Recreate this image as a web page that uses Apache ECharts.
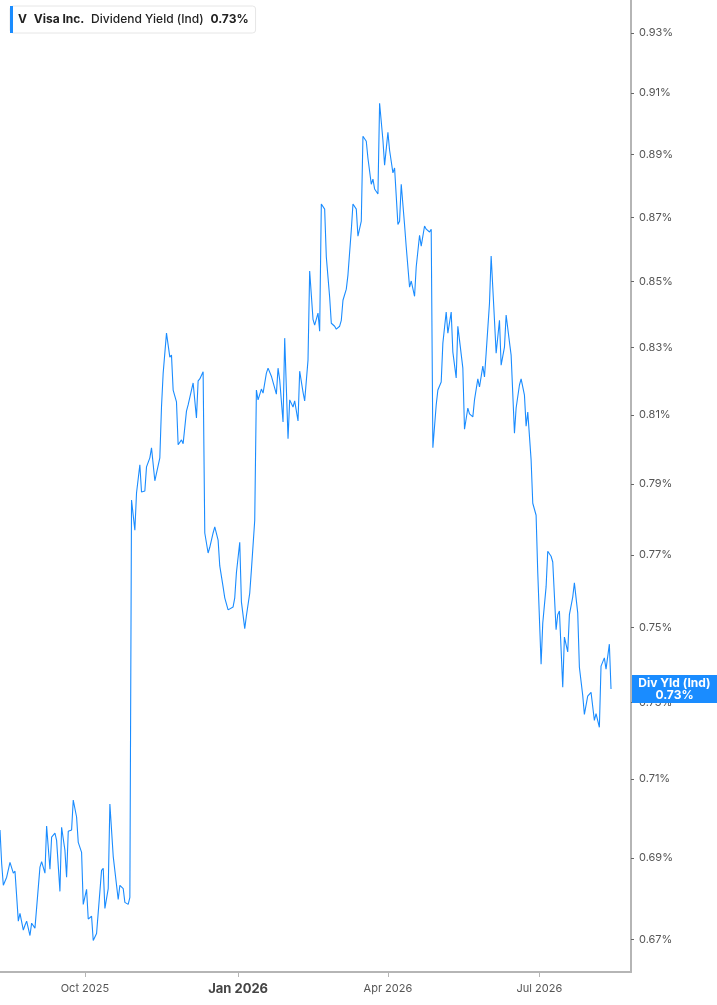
<!DOCTYPE html>
<html>
<head>
<meta charset="utf-8">
<style>
  html, body { margin: 0; padding: 0; background: #fff; }
  #chart { width: 717px; height: 1005px; }
</style>
<script src="https://cdn.jsdelivr.net/npm/echarts@6/dist/echarts.min.js"></script>
</head>
<body>
<div id="chart"></div>
<script>
// Visa Inc. (V) - indicated dividend yield, %
var dates = [
  '2025-08-11','2025-08-12','2025-08-13','2025-08-15','2025-08-17','2025-08-18','2025-08-19','2025-08-20',
  '2025-08-22','2025-08-23','2025-08-25','2025-08-26','2025-08-27','2025-08-29','2025-08-30','2025-09-01',
  '2025-09-02','2025-09-04','2025-09-05','2025-09-07','2025-09-08','2025-09-10','2025-09-11','2025-09-13',
  '2025-09-14','2025-09-16','2025-09-17','2025-09-19','2025-09-20','2025-09-21','2025-09-23','2025-09-24',
  '2025-09-26','2025-09-27','2025-09-29','2025-09-30','2025-10-02','2025-10-03','2025-10-05','2025-10-06',
  '2025-10-08','2025-10-11','2025-10-12','2025-10-13','2025-10-15','2025-10-16','2025-10-18','2025-10-21',
  '2025-10-22','2025-10-24','2025-10-25','2025-10-27','2025-10-28','2025-10-29','2025-10-31','2025-11-01',
  '2025-11-03','2025-11-04','2025-11-06','2025-11-07','2025-11-09','2025-11-10','2025-11-12','2025-11-13',
  '2025-11-15','2025-11-16','2025-11-17','2025-11-19','2025-11-21','2025-11-22','2025-11-23','2025-11-25',
  '2025-11-26','2025-11-28','2025-11-29','2025-12-01','2025-12-02','2025-12-03','2025-12-05','2025-12-07',
  '2025-12-08','2025-12-09','2025-12-11','2025-12-12','2025-12-14','2025-12-15','2025-12-17','2025-12-18',
  '2025-12-20','2025-12-21','2025-12-23','2025-12-24','2025-12-26','2025-12-27','2025-12-29','2025-12-30',
  '2025-12-31','2026-01-02','2026-01-03','2026-01-05','2026-01-06','2026-01-08','2026-01-09','2026-01-11',
  '2026-01-12','2026-01-13','2026-01-15','2026-01-16','2026-01-18','2026-01-19','2026-01-21','2026-01-22',
  '2026-01-24','2026-01-25','2026-01-26','2026-01-28','2026-01-29','2026-01-31','2026-02-01','2026-02-03',
  '2026-02-04','2026-02-06','2026-02-07','2026-02-09','2026-02-10','2026-02-12','2026-02-13','2026-02-15',
  '2026-02-16','2026-02-18','2026-02-19','2026-02-20','2026-02-22','2026-02-23','2026-02-25','2026-02-26',
  '2026-02-28','2026-03-01','2026-03-03','2026-03-04','2026-03-05','2026-03-07','2026-03-08','2026-03-10',
  '2026-03-11','2026-03-13','2026-03-14','2026-03-16','2026-03-17','2026-03-19','2026-03-20','2026-03-22',
  '2026-03-23','2026-03-24','2026-03-26','2026-03-27','2026-03-29','2026-03-30','2026-04-01','2026-04-02',
  '2026-04-04','2026-04-05','2026-04-07','2026-04-08','2026-04-09','2026-04-11','2026-04-12','2026-04-14',
  '2026-04-15','2026-04-17','2026-04-18','2026-04-20','2026-04-21','2026-04-23','2026-04-24','2026-04-26',
  '2026-04-27','2026-04-28','2026-04-30','2026-05-01','2026-05-03','2026-05-04','2026-05-06','2026-05-07',
  '2026-05-09','2026-05-10','2026-05-12','2026-05-13','2026-05-14','2026-05-16','2026-05-17','2026-05-19',
  '2026-05-20','2026-05-22','2026-05-23','2026-05-25','2026-05-26','2026-05-28','2026-05-29','2026-05-30',
  '2026-06-01','2026-06-02','2026-06-04','2026-06-05','2026-06-07','2026-06-08','2026-06-10','2026-06-11',
  '2026-06-13','2026-06-14','2026-06-16','2026-06-17','2026-06-19','2026-06-20','2026-06-22','2026-06-23',
  '2026-06-24','2026-06-26','2026-06-27','2026-06-29','2026-06-30','2026-07-02','2026-07-03','2026-07-05',
  '2026-07-06','2026-07-08','2026-07-09','2026-07-11','2026-07-12','2026-07-13','2026-07-15','2026-07-16',
  '2026-07-18','2026-07-19','2026-07-21','2026-07-22','2026-07-24','2026-07-25','2026-07-27','2026-07-28',
  '2026-07-30','2026-07-31','2026-08-01','2026-08-03','2026-08-04','2026-08-06','2026-08-07','2026-08-09',
  '2026-08-10','2026-08-12','2026-08-13'
];

var yields = [
  0.6970, 0.6886, 0.6832, 0.6852, 0.6889, 0.6891, 0.6862, 0.6867,
  0.6744, 0.6763, 0.6722, 0.6734, 0.6744, 0.6709, 0.6739, 0.6727,
  0.6724, 0.6877, 0.6891, 0.6862, 0.6980, 0.6872, 0.6952, 0.6962,
  0.6944, 0.6817, 0.6977, 0.6919, 0.6852, 0.6967, 0.6970, 0.7046,
  0.7003, 0.6939, 0.6914, 0.6785, 0.6822, 0.6749, 0.6756, 0.6697,
  0.6714, 0.6869, 0.6874, 0.6775, 0.6824, 0.7036, 0.6904, 0.6797,
  0.6832, 0.6824, 0.6790, 0.6785, 0.6802, 0.7854, 0.7769, 0.7874,
  0.7955, 0.7877, 0.7880, 0.7949, 0.7975, 0.8004, 0.7909, 0.7909,
  0.7975, 0.8123, 0.8223, 0.8343, 0.8271, 0.8277, 0.8173, 0.8138,
  0.8013, 0.8027, 0.8016, 0.8111, 0.8129, 0.8132, 0.8194, 0.8091,
  0.8200, 0.8206, 0.8227, 0.7761, 0.7705, 0.7721, 0.7761, 0.7778,
  0.7741, 0.7669, 0.7611, 0.7581, 0.7548, 0.7548, 0.7556, 0.7581,
  0.7650, 0.7735, 0.7570, 0.7497, 0.7532, 0.7594, 0.7658, 0.7797,
  0.8173, 0.8144, 0.8176, 0.8164, 0.8223, 0.8238, 0.8214, 0.8214,
  0.8161, 0.8238, 0.8203, 0.8079, 0.8328, 0.8030, 0.8144, 0.8123,
  0.8141, 0.8082, 0.8229, 0.8167, 0.8141, 0.8262, 0.8533, 0.8385,
  0.8367, 0.8404, 0.8349, 0.8742, 0.8726, 0.8576, 0.8452, 0.8373,
  0.8364, 0.8355, 0.8364, 0.8382, 0.8443, 0.8477, 0.8521, 0.8660,
  0.8742, 0.8726, 0.8641, 0.8688, 0.8959, 0.8943, 0.8888, 0.8805,
  0.8821, 0.8790, 0.8774, 0.9067, 0.8946, 0.8866, 0.8972, 0.8914,
  0.8841, 0.8857, 0.8678, 0.8688, 0.8805, 0.8676, 0.8607, 0.8483,
  0.8502, 0.8455, 0.8546, 0.8644, 0.8610, 0.8673, 0.8663, 0.8654,
  0.8663, 0.8004, 0.8129, 0.8173, 0.8197, 0.8313, 0.8407, 0.8343,
  0.8407, 0.8286, 0.8209, 0.8364, 0.8322, 0.8238, 0.8058, 0.8120,
  0.8103, 0.8094, 0.8144, 0.8206, 0.8182, 0.8244, 0.8212, 0.8283,
  0.8434, 0.8579, 0.8382, 0.8283, 0.8382, 0.8247, 0.8301, 0.8398,
  0.8316, 0.8277, 0.8046, 0.8120, 0.8188, 0.8206, 0.8158, 0.8067,
  0.8108, 0.7969, 0.7845, 0.7811, 0.7650, 0.7401, 0.7512, 0.7611,
  0.7710, 0.7696, 0.7680, 0.7494, 0.7535, 0.7545, 0.7340, 0.7474,
  0.7434, 0.7535, 0.7583, 0.7622, 0.7540, 0.7393, 0.7318, 0.7268,
  0.7316, 0.7321, 0.7326, 0.7252, 0.7270, 0.7234, 0.7396, 0.7418,
  0.7388, 0.7455, 0.7335
];

var yTicks = [0.67, 0.69, 0.71, 0.73, 0.75, 0.77, 0.79, 0.81, 0.83, 0.85, 0.87, 0.89, 0.91, 0.93];
var monthTicks = ['2025-10-01', '2026-01-01', '2026-04-01', '2026-07-01'];
var monthLabels = ['Oct 2025', 'Jan 2026', 'Apr 2026', 'Jul 2026'];

var lineColor = '#1a8cff';
var lastValue = yields[yields.length - 1];
var yMin = 0.6621, yMax = 0.9412;

function toTime(s) {
  var p = s.split('-');
  return new Date(+p[0], +p[1] - 1, +p[2]).getTime();
}

var monthTimes = monthTicks.map(toTime);
var seriesData = dates.map(function (d, i) { return [toTime(d), yields[i]]; });

var chart = echarts.init(document.getElementById('chart'));

var option = {
  animation: false,
  textStyle: { fontFamily: 'Inter, Roboto, sans-serif' },
  grid: { left: 0, right: 86, top: 0, bottom: 33, containLabel: false, outerBoundsMode: 'none' },
  legend: {
    left: 10,
    top: 6,
    selectedMode: false,
    icon: 'rect',
    itemWidth: 3,
    itemHeight: 27,
    itemGap: 0,
    padding: [0, 7, 0, 0],
    backgroundColor: '#fff',
    borderColor: '#e6e6e6',
    borderWidth: 1,
    borderRadius: 3,
    formatter: function () {
      return '{t|V}  {n|Visa Inc.}  {m|Dividend Yield (Ind)}  {v|' + lastValue.toFixed(2) + '%}';
    },
    textStyle: {
      rich: {
        t: { fontSize: 12, fontWeight: 'bold', color: '#222' },
        n: { fontSize: 12, fontWeight: 'bold', color: '#222' },
        m: { fontSize: 12, fontWeight: 500, color: '#222' },
        v: { fontSize: 12, fontWeight: 'bold', color: '#222' }
      }
    }
  },
  xAxis: {
    type: 'value',
    min: toTime('2025-08-11'),
    max: toTime('2026-08-25'),
    axisLine: { show: true, lineStyle: { color: '#b5b5b5', width: 2 } },
    axisTick: { show: true, customValues: monthTimes, length: 5, lineStyle: { color: '#b5b5b5' } },
    splitLine: { show: false },
    axisLabel: {
      customValues: monthTimes,
      margin: 11,
      color: '#555',
      fontSize: 11,
      formatter: function (val) {
        var best = 0;
        for (var i = 1; i < monthTimes.length; i++) {
          if (Math.abs(monthTimes[i] - val) < Math.abs(monthTimes[best] - val)) best = i;
        }
        var lab = monthLabels[best];
        return lab.indexOf('Jan') === 0 ? '{b|' + lab + '}' : lab;
      },
      rich: {
        b: { fontSize: 13, fontWeight: 'bold', color: '#444' }
      }
    }
  },
  yAxis: [
    {
      type: 'log',
      position: 'right',
      min: yMin,
      max: yMax,
      axisLine: { show: true, lineStyle: { color: '#b5b5b5', width: 2 } },
      axisTick: { show: true, customValues: yTicks, length: 3, inside: false, lineStyle: { color: '#666' } },
      splitLine: { show: false },
      axisLabel: {
        customValues: yTicks,
        margin: 8,
        color: '#555',
        fontSize: 11,
        formatter: function (v) { return v.toFixed(2) + '%'; }
      }
    },
    {
      // last-value tag sitting on the right axis
      type: 'log',
      position: 'right',
      min: yMin,
      max: yMax,
      axisLine: { show: false },
      axisTick: { show: false },
      splitLine: { show: false },
      axisLabel: {
        customValues: [lastValue],
        margin: 1,
        backgroundColor: lineColor,
        padding: [2, 0, 2, 0],
        formatter: function () {
          return '{a|Div Yld (Ind)}\n{a|' + lastValue.toFixed(2) + '%}';
        },
        rich: {
          a: { width: 85, align: 'center', fontSize: 12, lineHeight: 12, fontWeight: 'bold', color: '#fff' }
        }
      }
    }
  ],
  series: [
    {
      name: 'Visa Inc.',
      type: 'line',
      yAxisIndex: 0,
      data: seriesData,
      showSymbol: false,
      symbol: 'none',
      color: lineColor,
      lineStyle: { color: lineColor, width: 1.1 },
      emphasis: { disabled: true }
    }
  ]
};

chart.setOption(option);
</script>
</body>
</html>
